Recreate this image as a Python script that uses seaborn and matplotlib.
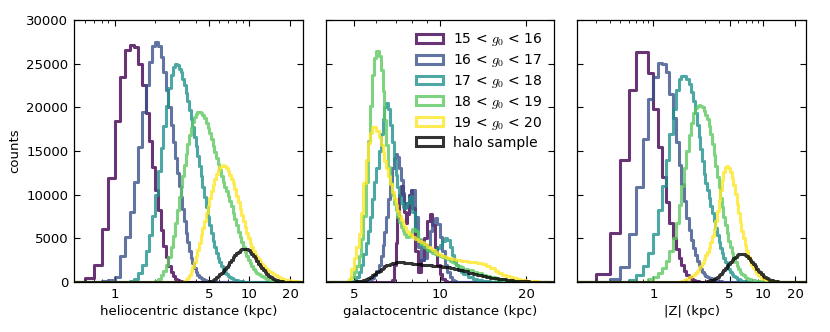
import numpy as np
import matplotlib
matplotlib.use("Agg")
import matplotlib.pyplot as plt
from matplotlib.patches import Patch
from matplotlib.ticker import FixedLocator, FuncFormatter, LogLocator, NullFormatter
import seaborn as sns

# ---------------- labels ----------------
series_labels = [r"15 < $g_0$ < 16", r"16 < $g_0$ < 17", r"17 < $g_0$ < 18",
                 r"18 < $g_0$ < 19", r"19 < $g_0$ < 20", "halo sample"]
xlabels = ["heliocentric distance (kpc)", "galactocentric distance (kpc)", "|Z| (kpc)"]
ylabel = "counts"
xticks_helio = [1, 5, 10, 20]
xticks_galcen = [5, 10, 20]
xticks_z = [1, 5, 10, 20]
yticks = [0, 5000, 10000, 15000, 20000, 25000, 30000]

# ---------------- panel 1: heliocentric distance (counts per bin) ----------------
helio_g15 = [0, 450, 2000, 6100, 11900, 18400, 23500, 26600, 27100, 26900, 25000, 22500, 19300,
             16200, 13200, 10500, 8200, 6000, 4100, 2900, 1800, 1100, 650, 380, 200,
             120, 85, 50, 35, 20, 12]
helio_g16 = [0, 0, 0, 100, 250, 600, 3000, 5200, 8000, 11500, 15500, 19500, 22500, 25200, 27000,
             27500, 27000, 25800, 24000, 22000, 20000, 18000, 16000, 14200, 12500,
             11000, 9780, 8330, 6950, 5650, 4530, 3580, 2780, 2130, 1590, 1160, 830, 600, 420,
             290, 190, 130, 85, 55, 35, 20, 12]
helio_g17 = [0, 0, 0, 0, 0, 0, 0, 0, 100, 400, 1000, 2000, 3600, 5400, 7600, 10000, 12700, 15300,
             17900, 20200, 22200, 23700, 24600, 25000, 24800,
             24400, 24000, 23300, 22600, 21650, 20700, 19700, 18700, 17700, 16650, 15550, 14430,
             13280, 12100, 10900, 9730, 8580, 7500, 6500, 5580, 4730, 3980, 3330, 2750, 2250,
             1830, 1480, 1180, 930, 720, 560, 430, 330, 250, 180, 130, 100, 70, 50, 35, 25, 18,
             12, 8]
helio_g18 = [0] * 15 + [100, 350, 750, 1300, 2000, 2900, 4000, 5300, 6700, 8200,
                        9700, 10850, 12150, 13430, 14680, 15800, 16800, 17650, 18350, 18880, 19230,
                        19430, 19480, 19380, 19130, 18750, 18250, 17680, 17030, 16330, 15580,
                        14850, 14150, 13480, 12830, 12150, 11450, 10880, 10430, 9900, 9300, 8650,
                        7950, 7230, 6480, 5780, 5130, 4530, 3980, 3450, 2950, 2510, 2140, 1800,
                        1500, 1250, 1050, 890, 760, 650, 550, 460, 380, 310, 250, 200, 160, 125,
                        100, 75, 60, 45, 32, 25, 18, 13, 10, 6]
helio_g19 = [0] * 25 + [0, 0, 40, 110, 240, 475, 825, 1250, 1750, 2330, 2980, 3700, 4500, 5330,
                        6180, 7030, 7880, 8730, 9580, 10380, 11130, 11800, 12400, 12850, 13150,
                        13330, 13380, 13280, 13030, 12700, 12300, 11830, 11280, 10630, 9880, 9130,
                        8380, 7650, 6950, 6280, 5630, 5030, 4480, 3980, 3530, 3150, 2850, 2580,
                        2330, 2090, 1860, 1660, 1490, 1310, 1140, 990, 860, 750, 650, 560, 480,
                        400, 340, 285, 235, 190, 160, 125, 100, 80, 65, 50, 35, 25]
helio_halo = [0] * 43 + [75, 150, 250, 375, 525, 690, 860, 1050, 1250, 1480, 1730, 1990, 2260,
                         2540, 2810, 3060, 3290, 3480, 3630, 3730, 3780, 3780, 3730, 3610, 3440,
                         3230, 2980, 2700, 2400, 2110, 1840, 1580, 1330, 1100, 900, 730, 580, 450,
                         350, 265, 200, 150, 110, 80, 55, 40, 25, 18, 12, 8]

# ---------------- panel 2: galactocentric distance ----------------
galcen_g15 = [0] * 28 + [250, 2000, 4500, 7500, 10000, 11000, 10000, 8000, 6700, 7800, 10000, 10500,
                         8500, 3500, 1200, 2500, 5000, 7000, 7800, 6500, 4000, 2000, 900, 350, 100]
galcen_g16 = [0] * 16 + [100, 300, 500, 800, 1300, 2000, 3000, 4200, 5700, 7500, 9500, 11400, 13100,
                         14200, 14700, 14300, 13000, 11700, 10200, 9000, 8600, 9000, 9800, 10300,
                         10500, 7500, 4000, 2500, 2800, 4200, 5800, 6900, 7300, 6600, 5200, 3500,
                         2000, 1100, 550, 250, 100, 40]
galcen_g17 = [0] * 10 + [150, 600, 1200, 2000, 3200, 4500, 5800, 7500, 9500, 11400, 13100, 15000,
                         17000, 18700, 20000, 20500, 19800, 18000, 16000, 14000, 12300, 10900,
                         9800, 9000, 8600, 8500, 8700, 9100, 9600, 9800,
                         8000, 6000, 4800, 4200, 3900, 3700, 3600, 3600, 3700, 3900, 4200, 4700,
                         5000, 4800, 4000, 3100, 2400, 1900, 1500, 1200,
                         900, 600, 380, 240, 150, 90, 50, 30, 15]
galcen_g18 = [0] * 8 + [200, 600, 1100, 1850, 2950, 4900, 7600, 11400, 16100, 20200, 23700, 25700,
                        26400, 25900, 24300, 21900, 18600, 15700, 13200, 11300, 10000, 8900, 8200,
                        7500, 6900, 6350, 5850, 5450, 5150, 5100, 5300, 5600,
                        6100, 5800, 4900, 4300, 4000, 3700, 3500, 3300, 3200, 3100, 3000, 2900,
                        2750, 2600, 2450, 2300, 2150, 2000, 1850, 1700,
                        1500, 1400, 1200, 1000, 820, 660, 520, 400, 300, 220, 160, 110, 75, 50,
                        30, 18, 10, 5]
galcen_g19 = [0] * 8 + [400, 1500, 2700, 4000, 5500, 7900, 11300, 14000, 15900, 17100, 17700, 17800,
                        17300, 16600, 15700, 14900, 13900, 13000, 12100, 11200, 10300, 9500, 8800,
                        8100, 7600, 7100, 6600, 6250, 5950, 5700, 5500, 5350,
                        5150, 4950, 4750, 4550, 4300, 4050, 3850, 3650, 3450, 3250, 3100, 2980,
                        2880, 2800, 2720, 2650, 2580, 2520, 2470, 2420,
                        2380, 2330, 2280, 2200, 2050, 1850, 1550, 1250, 1000, 800, 650, 520, 420,
                        340, 270, 210, 160, 120, 90, 65, 45, 30, 20, 12, 8, 5]
galcen_halo = [0] * 10 + [40, 70, 100, 150, 210, 310, 440, 590, 770, 940, 1110, 1290, 1460, 1630,
                          1780, 1900, 2000, 2090, 2160, 2210, 2240, 2250, 2250, 2250, 2240, 2230,
                          2210, 2190, 2160, 2140,
                          2100, 2080, 2050, 2000, 1980, 1950, 1920, 1880, 1850, 1820, 1790, 1750,
                          1720, 1680, 1620, 1560, 1500, 1440, 1380, 1320,
                          1220, 1080, 950, 820, 700, 590, 500, 420, 350, 290, 240, 195, 160, 130,
                          100, 80, 60, 45, 35, 25, 18, 12, 8, 5, 3, 2]

# ---------------- panel 3: |Z| ----------------
z_g15 = [0, 900, 5600, 14000, 22000, 26300, 26300, 23900, 19800, 15500, 12000, 9200, 6800, 5000,
         3800, 2700, 1900, 1300, 850, 550, 350, 220, 140, 90, 50, 30, 15, 8]
z_g16 = [0, 0, 300, 1700, 5500, 10900, 16400, 21000, 23500, 25100, 25000, 24000, 21500, 18800,
         16000, 13400, 11200, 9300, 7300, 6000, 4800, 3900, 3100, 2450, 1950, 1500, 1150, 900,
         710, 600, 500, 410, 320, 250, 190, 140, 110, 80, 55, 40, 25, 18, 12, 8]
z_g17 = [0, 0, 0, 0, 200, 800, 1800, 3300, 5500, 8200, 11000, 14000, 17000, 19800, 22000, 23200,
         23600, 23600, 23300, 22700, 21800, 20700, 19400, 18000, 16600, 15200, 13800, 12400,
         11350, 10550, 9650, 8750, 7850, 6980, 6130, 5330, 4580, 3900, 3300, 2750, 2250, 1830,
         1480, 1180, 930, 710, 540, 400, 300, 220, 160, 110, 80, 50, 30, 20, 12, 8]
z_g18 = [0] * 7 + [300, 600, 1000, 1600, 2400, 3500, 5000, 6800, 8800, 11000, 13000, 15000, 16800,
                   18200, 19300, 19900, 20200, 20300, 20200, 20000, 19600,
                   19150, 18630, 17880, 16930, 15780, 14580, 13330, 12080, 10830, 9650, 8550,
                   7500, 6500, 5580, 4730, 3980, 3330, 2750, 2250, 1830, 1480, 1190, 960, 770,
                   620, 490, 380, 300, 230, 180, 140, 110, 80, 60, 48, 35, 25, 18, 12, 8]
z_g19 = [0] * 16 + [100, 250, 400, 550, 700, 850, 1050, 1300, 1550, 1850, 2200, 2600,
                    3050, 3450, 3950, 4550, 5250, 6080, 7030, 8130, 9380, 10580, 11730, 12580,
                    13130, 13300, 13100, 12650, 11950, 11080, 10030, 8950, 7850, 6830, 5880, 5000,
                    4200, 3500, 2900, 2380, 1930, 1550, 1250, 1000, 800, 630, 500, 390, 300, 230,
                    180, 130, 100, 70, 50, 35, 25, 18, 12, 8]
z_halo = [0] * 28 + [40, 75, 125, 190, 260, 360, 490, 625, 775, 950, 1150, 1360, 1590, 1830, 2080,
                     2310, 2540, 2740, 2910, 3060, 3190, 3250, 3250, 3200, 3100, 2950, 2750, 2530,
                     2280, 2030, 1780, 1540, 1310, 1100, 900, 730, 580, 450, 350, 270, 200, 150,
                     110, 80, 55, 40, 25, 18, 12, 8]

# ---------------- bin edges (positions) ----------------
edges_helio = np.concatenate([np.round(np.arange(0.5, 2.95, 0.1), 2),
                              3.0 * 10 ** (0.0125 * np.arange(0, 75))])
edges_galcen = np.concatenate([np.round(np.arange(4.0, 7.95, 0.1), 2),
                               np.round(np.arange(8.0, 11.95, 0.2), 2),
                               np.arange(12.0, 25.01, 0.5)])
edges_z = np.concatenate([np.round(np.arange(0.2, 2.95, 0.1), 2),
                          3.0 * 10 ** (0.015 * np.arange(0, 63))])

colors = [plt.cm.viridis(v) for v in np.linspace(0, 1, 5)] + ["black"]

sns.set_theme(style="ticks", rc={
    "font.size": 9.5, "axes.labelsize": 9.5, "xtick.labelsize": 9.5, "ytick.labelsize": 9.5,
    "legend.fontsize": 10, "axes.edgecolor": "black", "axes.linewidth": 0.9,
    "xtick.color": "black", "ytick.color": "black", "text.color": "black",
    "axes.labelcolor": "black",
})
plt.rcParams["font.family"] = ["DejaVu Sans"]
plt.rcParams["mathtext.fontset"] = "cm"


def pad(vals, n):
    out = np.zeros(n)
    out[:len(vals)] = vals
    return out


def draw(ax, edges, series):
    centers = np.sqrt(edges[:-1] * edges[1:])
    for vals, color in zip(series, colors):
        sns.histplot(x=centers, weights=pad(vals, len(centers)), bins=[float(e) for e in edges],
                     element="step", fill=False, color=color, linewidth=2.2,
                     alpha=0.8, ax=ax)


fig = plt.figure(figsize=(8.3, 3.32), dpi=100)
W, H = 830.0, 332.0
ax1 = fig.add_axes([74 / W, 50 / H, 229 / W, 262 / H])
ax2 = fig.add_axes([326 / W, 50 / H, 228 / W, 262 / H])
ax3 = fig.add_axes([577 / W, 50 / H, 229 / W, 262 / H])

draw(ax1, edges_helio, [helio_g15, helio_g16, helio_g17, helio_g18, helio_g19, helio_halo])
draw(ax2, edges_galcen, [galcen_g15, galcen_g16, galcen_g17, galcen_g18, galcen_g19, galcen_halo])
draw(ax3, edges_z, [z_g15, z_g16, z_g17, z_g18, z_g19, z_halo])

setup = [(ax1, (0.5, 25), xticks_helio, xlabels[0]),
         (ax2, (4.0, 25), xticks_galcen, xlabels[1]),
         (ax3, (0.2, 25), xticks_z, xlabels[2])]
for ax, xlim, xt, xl in setup:
    ax.set_xscale("log")
    ax.set_xlim(*xlim)
    ax.set_ylim(0, 30000)
    ax.xaxis.set_major_locator(FixedLocator(xt))
    ax.xaxis.set_major_formatter(FuncFormatter(lambda v, p: f"{v:g}"))
    ax.xaxis.set_minor_locator(LogLocator(base=10, subs=np.arange(2, 10) * 1.0, numticks=20))
    ax.xaxis.set_minor_formatter(NullFormatter())
    ax.set_yticks(yticks)
    ax.tick_params(which="both", direction="in", top=True, right=True)
    ax.tick_params(which="major", length=4.5, width=0.8, pad=4)
    ax.tick_params(which="minor", length=2.5, width=0.6)
    ax.set_xlabel(xl, labelpad=3)
    ax.set_ylabel("")
    for s in ax.spines.values():
        s.set_visible(True)

ax1.set_ylabel(ylabel)
ax2.tick_params(labelleft=False)
ax3.tick_params(labelleft=False)

handles = [Patch(facecolor="none", edgecolor=c, linewidth=2.2, alpha=0.8) for c in colors]
ax2.legend(handles, series_labels, loc="upper right", frameon=False,
           handlelength=1.95, handleheight=0.6, handletextpad=0.75, labelspacing=0.28,
           borderaxespad=0.4, borderpad=0.4)

fig.savefig("out.png", dpi=100)
